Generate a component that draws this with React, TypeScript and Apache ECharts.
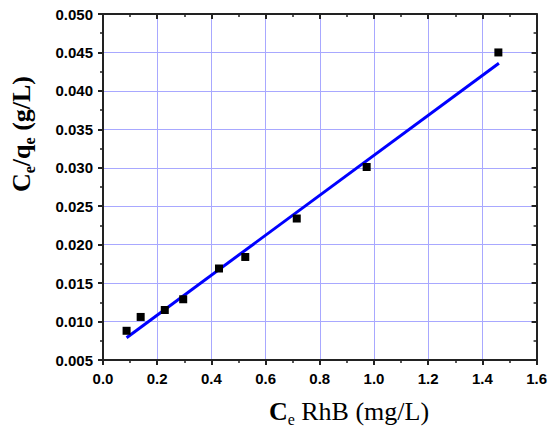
import React, { useEffect, useRef } from "react";
import * as echarts from "echarts";

const ceValues = [0.087, 0.139, 0.228, 0.296, 0.428, 0.525, 0.715, 0.973, 1.459];
const ceqeValues = [0.0088, 0.0106, 0.0115, 0.0129, 0.0169, 0.0184, 0.0234, 0.0301, 0.0450];
const fitX = [0.087, 1.461];
const fitY = [0.0079, 0.0436];

const xMin = 0, xMax = 1.6, xStep = 0.2;
const yMin = 0.005, yMax = 0.05, yStep = 0.005;

export default function App() {
  const ref = useRef<HTMLDivElement>(null);
  useEffect(() => {
    if (!ref.current) return;
    const chart = echarts.init(ref.current, null, { renderer: "svg" });
    const axisLineStyle = { color: "#222", width: 2 };
    const labelStyle = {
      color: "#000",
      fontFamily: "Liberation Sans, Arial, sans-serif",
      fontWeight: "bold" as const,
      fontSize: 15,
    };
    const gridLine = { show: true, lineStyle: { color: "#a8a8ff", width: 1 } };
    const serifRich = {
      b: { fontFamily: "Liberation Serif, Times New Roman, serif", fontWeight: "bold", fontSize: 26, lineHeight: 32, color: "#000", verticalAlign: "middle" },
      r: { fontFamily: "Liberation Serif, Times New Roman, serif", fontWeight: "normal", fontSize: 26, lineHeight: 32, color: "#000", verticalAlign: "middle" },
      s: { fontFamily: "Liberation Serif, Times New Roman, serif", fontWeight: "bold", fontSize: 16, lineHeight: 14, color: "#000", verticalAlign: "bottom" },
      sr: { fontFamily: "Liberation Serif, Times New Roman, serif", fontWeight: "normal", fontSize: 16, lineHeight: 14, color: "#000", verticalAlign: "bottom" },
    };
    chart.setOption({
      animation: false,
      backgroundColor: "#fff",
      grid: { left: 103, right: 11, top: 14, bottom: 74, containLabel: false },
      xAxis: [
        {
          type: "value", min: xMin, max: xMax, interval: xStep, position: "bottom",
          axisLine: { show: true, onZero: false, lineStyle: axisLineStyle },
          axisTick: { show: true, inside: false, length: 5, lineStyle: axisLineStyle },
          minorTick: { show: true, splitNumber: 2, length: 3, lineStyle: { color: "#222", width: 1.5 } },
          axisLabel: { ...labelStyle, margin: 11, formatter: (v: number) => v.toFixed(1) },
          splitLine: gridLine,
        },
        {
          type: "value", min: xMin, max: xMax, interval: xStep, position: "top",
          axisLine: { show: true, onZero: false, lineStyle: axisLineStyle },
          axisTick: { show: true, inside: true, length: 5, lineStyle: axisLineStyle },
          minorTick: { show: true, splitNumber: 2, length: 3, lineStyle: { color: "#222", width: 1.5 } },
          axisLabel: { show: false },
          splitLine: { show: false },
        },
      ],
      yAxis: [
        {
          type: "value", min: yMin, max: yMax, interval: yStep, position: "left",
          axisLine: { show: true, onZero: false, lineStyle: axisLineStyle },
          axisTick: { show: true, inside: false, length: 5, lineStyle: axisLineStyle },
          minorTick: { show: true, splitNumber: 2, length: 3, lineStyle: { color: "#222", width: 1.5 } },
          axisLabel: { ...labelStyle, margin: 10, formatter: (v: number) => v.toFixed(3) },
          splitLine: gridLine,
        },
        {
          type: "value", min: yMin, max: yMax, interval: yStep, position: "right",
          axisLine: { show: true, onZero: false, lineStyle: axisLineStyle },
          axisTick: { show: true, inside: true, length: 5, lineStyle: axisLineStyle },
          minorTick: { show: true, splitNumber: 2, length: 3, lineStyle: { color: "#222", width: 1.5 } },
          axisLabel: { show: false },
          splitLine: { show: false },
        },
      ],
      series: [
        {
          type: "line",
          xAxisIndex: 0, yAxisIndex: 0,
          data: fitX.map((x, i) => [x, fitY[i]]),
          showSymbol: false,
          lineStyle: { color: "#0000ff", width: 3 },
          z: 2,
        },
        {
          type: "scatter",
          xAxisIndex: 0, yAxisIndex: 0,
          data: ceValues.map((x, i) => [x, ceqeValues[i]]),
          symbol: "rect",
          symbolSize: 8,
          itemStyle: { color: "#000", opacity: 1 },
          z: 3,
        },
      ],
      graphic: [
        {
          type: "text",
          x: 21, y: 134,
          rotation: Math.PI / 2,
          style: {
            text: "{b|C}{s|e}{b|/q}{s|e}{b| (g/L)}",
            rich: serifRich,
            align: "center",
            verticalAlign: "middle",
          },
        },
        {
          type: "text",
          x: 349, y: 411,
          style: {
            text: "{b|C}{sr|e}{r| RhB (mg/L)}",
            rich: serifRich,
            align: "center",
            verticalAlign: "middle",
          },
        },
      ],
    });
    return () => chart.dispose();
  }, []);
  return <div ref={ref} style={{ position: "fixed", left: 0, top: 0, width: 550, height: 434 }} />;
}
